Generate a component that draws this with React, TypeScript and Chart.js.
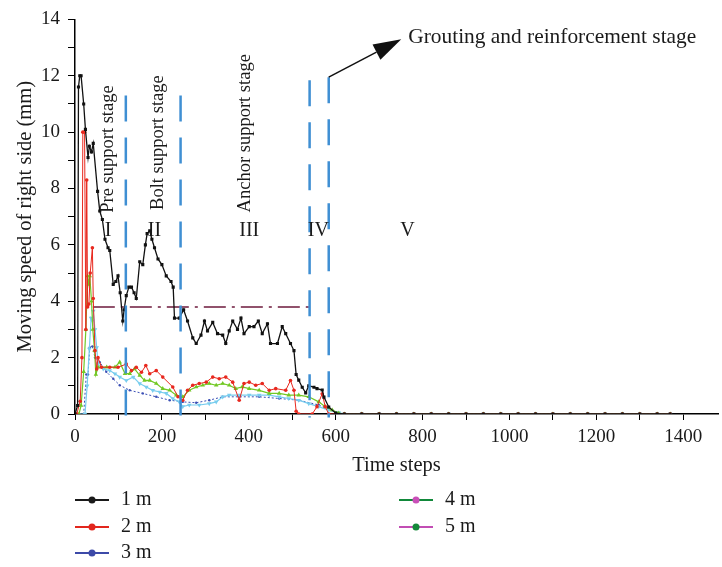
import React, { useEffect, useRef } from 'react';
import { Chart, registerables } from 'chart.js';

Chart.register(...registerables);

const FONT = '"Liberation Serif", "DejaVu Serif", serif';

// ---- Data (time steps / moving speed) ----
const t1 = [0, 6, 8, 11, 14, 20, 24, 30, 33, 38, 42, 52, 57, 63, 69, 76, 80, 88, 94, 99, 104, 110, 113, 118, 124, 130, 136, 141, 149, 156, 162, 166, 172, 177, 183, 191, 200, 210, 221, 226, 229, 240, 250, 259, 271, 279, 290, 298, 305, 317, 328, 340, 347, 355, 363, 374, 382, 389, 401, 412, 422, 431, 443, 450, 466, 477, 485, 496, 504, 509, 515, 523, 531, 538, 550, 557, 569, 573, 584, 600];
const v1 = [0, 0.3, 11.6, 12.0, 12.0, 11.0, 10.1, 9.1, 9.5, 9.3, 9.6, 7.9, 7.2, 6.9, 6.2, 5.9, 5.8, 4.6, 4.7, 4.9, 4.3, 3.3, 3.7, 4.2, 4.5, 4.5, 4.3, 4.1, 5.4, 5.3, 6.0, 6.4, 6.5, 6.2, 5.9, 5.5, 5.3, 4.9, 4.7, 4.5, 3.4, 3.4, 3.7, 3.3, 2.7, 2.5, 2.8, 3.3, 2.95, 3.25, 2.85, 2.8, 2.5, 2.95, 3.3, 3.0, 3.4, 2.85, 3.1, 3.1, 3.3, 2.85, 3.2, 2.5, 2.5, 3.1, 2.85, 2.5, 2.25, 1.4, 1.2, 0.95, 0.75, 1.0, 0.95, 0.9, 0.85, 0.6, 0.25, 0.03];

const t2 = [0, 4, 12, 16, 18, 22, 25, 27, 29, 32, 35, 40, 42, 46, 50, 53, 61, 80, 99, 118, 130, 141, 153, 163, 172, 187, 202, 225, 237, 248, 259, 271, 286, 302, 317, 332, 347, 363, 378, 389, 401, 416, 431, 447, 462, 485, 496, 504, 509, 515, 546, 557, 569, 576, 584, 600];
const v2 = [0, 0, 0.45, 2.0, 10.0, 10.0, 3.0, 8.3, 3.8, 3.9, 5.0, 5.9, 4.1, 2.25, 1.6, 2.0, 1.66, 1.66, 1.66, 1.77, 1.54, 1.66, 1.48, 1.72, 1.43, 1.54, 1.31, 0.96, 0.61, 0.49, 0.84, 1.02, 1.08, 1.13, 1.31, 1.25, 1.31, 1.13, 0.49, 1.08, 1.13, 1.02, 1.08, 0.84, 0.9, 0.84, 1.19, 0.84, 0.1, 0.0, 0.0, 0.26, 0.72, 0.26, 0.0, 0.0];

const t3 = [0, 20, 26, 30, 34, 40, 46, 57, 72, 88, 103, 126, 156, 187, 218, 248, 279, 309, 340, 378, 424, 470, 515, 561, 592, 607];
const v3 = [0, 0, 1.4, 1.4, 2.36, 2.4, 2.0, 1.84, 1.5, 1.25, 1.02, 0.84, 0.73, 0.61, 0.49, 0.43, 0.4, 0.49, 0.61, 0.61, 0.61, 0.55, 0.49, 0.32, 0.14, 0];

const t4 = [0, 9, 14, 20, 25, 29, 32, 34, 38, 41, 45, 48, 53, 73, 92, 103, 115, 126, 137, 149, 160, 172, 187, 202, 218, 233, 248, 263, 279, 294, 309, 325, 340, 355, 370, 385, 401, 424, 447, 470, 492, 515, 538, 561, 576, 592, 607];
const v4 = [0, 0, 0.3, 1.5, 3.0, 4.9, 4.6, 4.9, 4.0, 3.0, 2.25, 1.4, 1.66, 1.66, 1.66, 1.84, 1.43, 1.43, 1.6, 1.37, 1.19, 1.19, 1.08, 0.9, 0.84, 0.67, 0.61, 0.84, 0.96, 1.02, 1.08, 1.02, 1.08, 1.02, 0.9, 0.96, 0.9, 0.84, 0.73, 0.73, 0.67, 0.67, 0.61, 0.43, 0.26, 0.14, 0.03];

const t5 = [0, 23, 28, 33, 37, 40, 42, 46, 50, 53, 65, 80, 92, 103, 118, 134, 149, 164, 179, 195, 210, 225, 240, 248, 263, 286, 309, 325, 340, 355, 378, 401, 424, 447, 470, 492, 515, 538, 561, 584, 607];
const v5 = [0, 0, 1.0, 2.3, 3.4, 3.3, 3.65, 3.0, 2.36, 1.78, 1.6, 1.54, 1.43, 1.31, 1.19, 1.31, 1.08, 0.96, 0.84, 0.78, 0.73, 0.55, 0.43, 0.26, 0.32, 0.32, 0.37, 0.43, 0.61, 0.67, 0.67, 0.67, 0.67, 0.67, 0.61, 0.55, 0.49, 0.37, 0.26, 0.14, 0.05];

// flat tail after the support work is finished
const tailSteps = [620, 660, 700, 740, 780, 820, 860, 900, 940, 980, 1020, 1060, 1100, 1140, 1180, 1220, 1260, 1300, 1340, 1370];
const tailValues = [0, 0, 0, 0, 0, 0, 0, 0, 0, 0, 0, 0, 0, 0, 0, 0, 0, 0, 0, 0];

// reference (dash-dot) line
const refLineX = [41, 540];
const refLineY = 3.8;

// stage boundaries (dashed verticals)
const boundaryX = [117, 243, 540, 584];
const boundaryTop = [11.3, 11.3, 11.84, 11.95];

// stage annotations
const stageNames = ['Pre support stage', 'Bolt support stage', 'Anchor support stage'];
const stageNameX = [76, 191, 391];
const stageNameY = [9.4, 9.63, 9.96];
const romanLabels = ['I', 'II', 'III', 'IV', 'V'];
const romanX = [76, 183, 401, 560, 765];
const romanY = 6.5;
const arrowFrom = [584, 11.95];
const arrowTo = [751, 13.3];
const groutText = 'Grouting and reinforcement stage';
const groutPos = [767, 13.37];

// legend (as printed in the figure)
const legendLabels = ['1 m', '2 m', '3 m', '4 m', '5 m'];
const legendLineColors = ['#1a1a1a', '#e2261d', '#3d4aa8', '#11883a', '#c24db4'];
const legendDotColors = ['#1a1a1a', '#e2261d', '#3d4aa8', '#c94fb8', '#14893a'];

const pts = (xs: number[], ys: number[]) => xs.map((x, i) => ({ x, y: ys[i] }));
const withTail = (xs: number[], ys: number[]) => [...pts(xs, ys), ...pts(tailSteps, tailValues)];

const annotationPlugin = {
  id: 'stageAnnotations',
  afterDatasetsDraw(chart: any) {
    const { ctx, scales } = chart;
    const xs = scales.x;
    const ys = scales.y;
    ctx.save();
    ctx.fillStyle = '#1a1a1a';
    ctx.textAlign = 'center';
    ctx.textBaseline = 'middle';
    ctx.font = `18.5px ${FONT}`;
    stageNames.forEach((name, i) => {
      ctx.save();
      ctx.translate(xs.getPixelForValue(stageNameX[i]), ys.getPixelForValue(stageNameY[i]));
      ctx.rotate(-Math.PI / 2);
      ctx.fillText(name, 0, 0);
      ctx.restore();
    });
    ctx.font = `20px ${FONT}`;
    romanLabels.forEach((r, i) => {
      ctx.fillText(r, xs.getPixelForValue(romanX[i]), ys.getPixelForValue(romanY));
    });
    // arrow
    const ax0 = xs.getPixelForValue(arrowFrom[0]);
    const ay0 = ys.getPixelForValue(arrowFrom[1]);
    const ax1 = xs.getPixelForValue(arrowTo[0]);
    const ay1 = ys.getPixelForValue(arrowTo[1]);
    const ang = Math.atan2(ay1 - ay0, ax1 - ax0);
    const headLen = 28;
    const headW = 8.5;
    const bx = ax1 - headLen * Math.cos(ang);
    const by = ay1 - headLen * Math.sin(ang);
    ctx.strokeStyle = '#111';
    ctx.lineWidth = 1.5;
    ctx.beginPath();
    ctx.moveTo(ax0, ay0);
    ctx.lineTo(bx, by);
    ctx.stroke();
    ctx.fillStyle = '#111';
    ctx.beginPath();
    ctx.moveTo(ax1, ay1);
    ctx.lineTo(bx + headW * Math.sin(ang), by - headW * Math.cos(ang));
    ctx.lineTo(bx - headW * Math.sin(ang), by + headW * Math.cos(ang));
    ctx.closePath();
    ctx.fill();
    ctx.fillStyle = '#1a1a1a';
    ctx.textAlign = 'left';
    ctx.font = `21.4px ${FONT}`;
    ctx.fillText(groutText, xs.getPixelForValue(groutPos[0]), ys.getPixelForValue(groutPos[1]));
    ctx.restore();
  },
};

const legendPlugin = {
  id: 'figureLegend',
  afterDraw(chart: any) {
    const { ctx } = chart;
    const rowY = [500, 527, 553];
    const colX = [75, 399];
    ctx.save();
    ctx.font = `20px ${FONT}`;
    ctx.textBaseline = 'middle';
    ctx.textAlign = 'left';
    legendLabels.forEach((label, i) => {
      const col = i < 3 ? 0 : 1;
      const row = i < 3 ? i : i - 3;
      const x0 = colX[col];
      const y0 = rowY[row];
      ctx.strokeStyle = legendLineColors[i];
      ctx.lineWidth = 2;
      ctx.beginPath();
      ctx.moveTo(x0, y0);
      ctx.lineTo(x0 + 34, y0);
      ctx.stroke();
      ctx.fillStyle = legendDotColors[i];
      ctx.beginPath();
      ctx.arc(x0 + 17, y0, 3.5, 0, Math.PI * 2);
      ctx.fill();
      ctx.fillStyle = '#1a1a1a';
      ctx.fillText(label, x0 + 46, y0);
    });
    ctx.restore();
  },
};

export default function App() {
  const ref = useRef<HTMLCanvasElement>(null);
  useEffect(() => {
    const boundaryDatasets = boundaryX.map((bx, i) => ({
      label: `boundary${i}`,
      data: [{ x: bx, y: boundaryTop[i] }, { x: bx, y: -0.12 }],
      borderColor: '#3f8fd3',
      borderWidth: 2.5,
      borderDash: [26, 16],
      pointRadius: 0,
      fill: false,
      clip: false as any,
      order: -1,
    }));
    const chart = new Chart(ref.current as HTMLCanvasElement, {
      type: 'line',
      data: {
        datasets: [
          {
            label: '1 m',
            data: withTail(t1, v1),
            borderColor: '#111111',
            backgroundColor: '#111111',
            borderWidth: 1.3,
            pointStyle: 'rect',
            pointRadius: 2.2,
            pointBorderWidth: 0,
            order: 0,
          },
          {
            label: '2 m',
            data: withTail(t2, v2),
            borderColor: '#e8281e',
            backgroundColor: '#e8281e',
            borderWidth: 1,
            pointStyle: 'circle',
            pointRadius: 1.8,
            pointBorderWidth: 0,
            order: 1,
          },
          {
            label: '3 m',
            data: withTail(t3, v3),
            borderColor: '#3b4fb5',
            backgroundColor: '#3b4fb5',
            borderWidth: 1,
            borderDash: [2, 2],
            pointStyle: 'circle',
            pointRadius: 1.2,
            pointBorderWidth: 0,
            order: 4,
          },
          {
            label: '4 m',
            data: withTail(t4, v4),
            borderColor: '#72c824',
            backgroundColor: '#72c824',
            borderWidth: 1.2,
            pointStyle: 'triangle',
            pointRadius: 2.6,
            pointBorderWidth: 0,
            order: 2,
          },
          {
            label: '5 m',
            data: withTail(t5, v5),
            borderColor: '#78cdee',
            backgroundColor: '#78cdee',
            borderWidth: 1.2,
            pointStyle: 'triangle',
            pointRotation: 180,
            pointRadius: 2.6,
            pointBorderWidth: 0,
            order: 3,
          },
          {
            label: 'reference',
            data: [{ x: refLineX[0], y: refLineY }, { x: refLineX[1], y: refLineY }],
            borderColor: '#6d1a3c',
            borderWidth: 1.5,
            borderDash: [22, 6, 3, 6],
            pointRadius: 0,
            order: 5,
          },
          ...boundaryDatasets,
        ] as any,
      },
      options: {
        responsive: false,
        animation: false,
        events: [],
        layout: { padding: { top: 15, left: 0, right: 1, bottom: 73 } },
        plugins: {
          legend: { display: false },
          tooltip: { enabled: false },
        },
        scales: {
          x: {
            type: 'linear',
            min: 0,
            max: 1480,
            afterFit: (s: any) => { s.height = 80; },
            border: { display: true, color: '#000', width: 1.5 },
            grid: { display: true, drawOnChartArea: false, drawTicks: true, tickLength: 6, color: '#000', lineWidth: 1 },
            ticks: {
              stepSize: 100,
              includeBounds: false,
              autoSkip: false,
              maxRotation: 0,
              padding: 6,
              color: '#1a1a1a',
              font: { family: FONT, size: 19 },
              callback: (v: any) => (Number(v) % 200 === 0 ? String(v) : ''),
            },
            title: {
              display: true,
              text: 'Time steps',
              color: '#1a1a1a',
              font: { family: FONT, size: 20.5 },
              padding: { top: 0, bottom: 16 },
            },
          },
          y: {
            type: 'linear',
            min: 0,
            max: 14,
            afterFit: (s: any) => { s.width = 75; },
            border: { display: true, color: '#000', width: 1.5 },
            grid: { display: true, drawOnChartArea: false, drawTicks: true, tickLength: 7, color: '#000', lineWidth: 1 },
            ticks: {
              stepSize: 1,
              includeBounds: false,
              autoSkip: false,
              padding: 8,
              color: '#1a1a1a',
              font: { family: FONT, size: 19 },
              callback: (v: any) => (Number(v) % 2 === 0 ? String(v) : ''),
            },
            title: {
              display: true,
              text: 'Moving speed of right side (mm)',
              color: '#1a1a1a',
              font: { family: FONT, size: 20.5 },
              padding: { top: 13, bottom: 0 },
            },
          },
        },
      } as any,
      plugins: [annotationPlugin, legendPlugin],
    });
    return () => chart.destroy();
  }, []);
  return (
    <div style={{ position: 'absolute', left: 0, top: 0, width: 722, height: 567, background: '#fff' }}>
      <canvas ref={ref} width={722} height={567} style={{ display: 'block', width: 722, height: 567 }} />
    </div>
  );
}
